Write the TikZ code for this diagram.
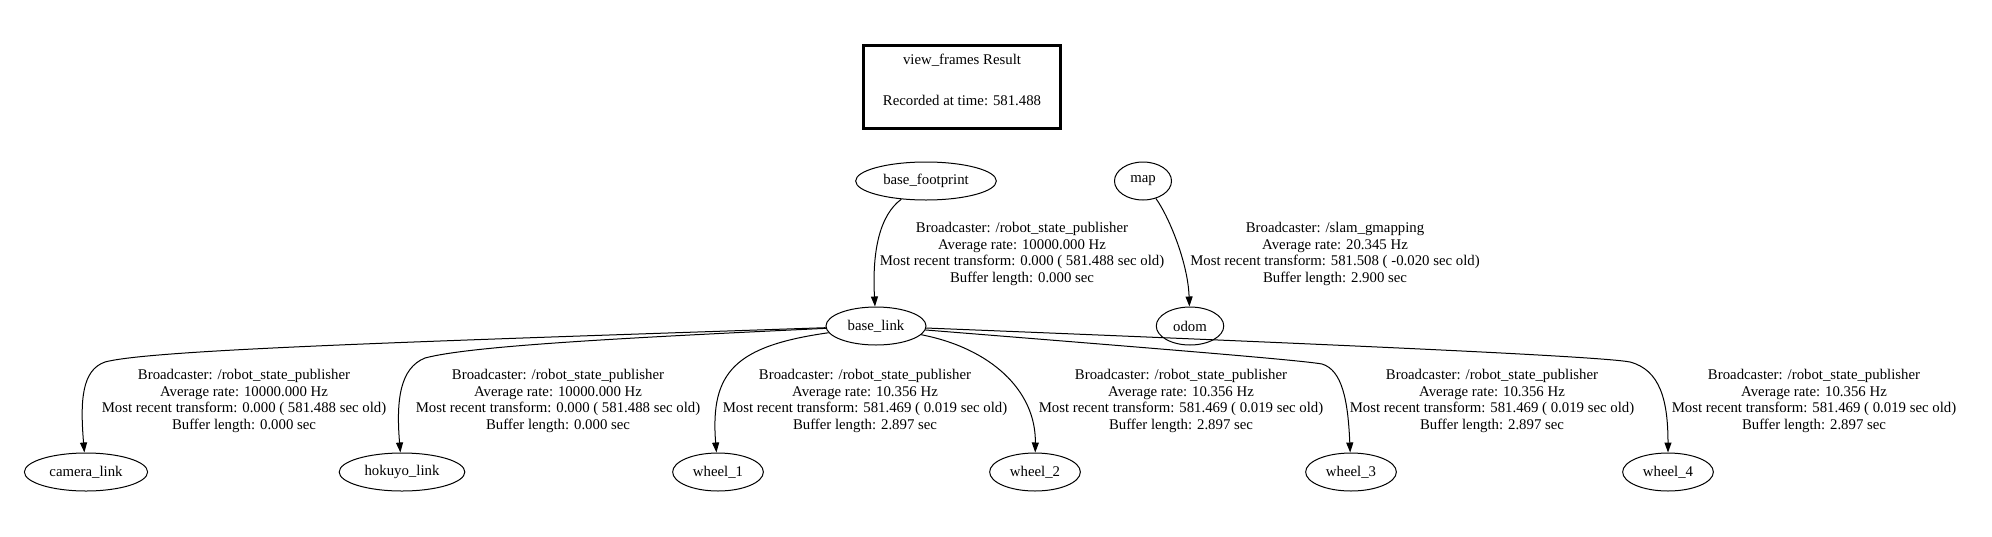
\documentclass[tikz,border=0pt]{standalone}
\usepackage{fontspec}
\setmainfont{Liberation Serif}
\usetikzlibrary{shapes.geometric,arrows.meta}

\begin{document}
\begin{tikzpicture}[x=1pt,y=-1pt,
	every node/.style={font=\fontsize{14.8}{16.7}\selectfont},
	frame/.style={draw,ellipse,line width=1pt,inner xsep=7pt,minimum height=38pt,minimum width=57pt},
	info/.style={align=center},
	edge/.style={line width=1pt,-{Triangle[length=10pt,width=7pt]}}]
				\fill[white] (0,0) rectangle (1992,536);
				\useasboundingbox (0,0) rectangle (1992,536);
				
				\coordinate (kcam) at (105,362);
				\coordinate (khok) at (425,358);
				\coordinate (kw3) at (1322,364);
				\coordinate (kw4) at (1630,362);
				
				\node[draw,line width=3pt,minimum width=197pt,minimum height=83pt] (res) at (962,87) {};
				\node[align=center] (restext) at (962,80) {view\_frames Result\\[25pt]Recorded at time: 581.488};
				
				\node[frame] (bfoot) at (926,181) {base\_footprint};
				\node[frame] (map) at (1143,181) {map};
				\node[frame] (blink) at (876,326) {base\_link};
				\node[frame] (odom) at (1190,326) {odom};
				\node[frame] (cam) at (86,472) {camera\_link};
				\node[frame] (hok) at (402,472) {hokuyo\_link};
				\foreach \i/\x in {1/718,2/1035,3/1351,4/1668}{
					\node[frame] (w\i) at (\x,472) {wheel\_\i};}
				
				\node[info] (lbfoot) at (1022,254) {Broadcaster: /robot\_state\_publisher\\Average rate: 10000.000 Hz\\Most recent transform: 0.000 ( 581.488 sec old)\\Buffer length: 0.000 sec};
				\node[info] (lmap) at (1335,254) {Broadcaster: /slam\_gmapping\\Average rate: 20.345 Hz\\Most recent transform: 581.508 ( -0.020 sec old)\\Buffer length: 2.900 sec};
				\node[info] (lcam) at (244,401) {Broadcaster: /robot\_state\_publisher\\Average rate: 10000.000 Hz\\Most recent transform: 0.000 ( 581.488 sec old)\\Buffer length: 0.000 sec};
				\node[info] (lhok) at (558,401) {Broadcaster: /robot\_state\_publisher\\Average rate: 10000.000 Hz\\Most recent transform: 0.000 ( 581.488 sec old)\\Buffer length: 0.000 sec};
				\foreach \i/\x in {1/865,2/1181,3/1492,4/1814}{
					\node[info] (lw\i) at (\x,401) {Broadcaster: /robot\_state\_publisher\\Average rate: 10.356 Hz\\Most recent transform: 581.469 ( 0.019 sec old)\\Buffer length: 2.897 sec};}
				
				\draw[edge] (bfoot) .. controls (880,215) and (872,250) .. (blink);
				\draw[edge] (map) .. controls (1168,215) and (1188,262) .. (odom);
				\draw[edge] (blink) .. controls (400,342) and (150,350) .. (kcam) .. controls (82,370) and (80,400) .. (cam);
				\draw[edge] (blink) .. controls (620,338) and (470,346) .. (khok) .. controls (400,368) and (396,400) .. (hok);
				\draw[edge] (blink) .. controls (735,346) and (710,372) .. (w1);
				\draw[edge] (blink) .. controls (990,348) and (1036,390) .. (w2);
				\draw[edge] (blink) .. controls (1150,348) and (1300,360) .. (kw3) .. controls (1342,370) and (1348,400) .. (w3);
				\draw[edge] (blink) .. controls (1300,343) and (1600,356) .. (kw4) .. controls (1660,370) and (1668,400) .. (w4);
			\end{tikzpicture}
\end{document}
